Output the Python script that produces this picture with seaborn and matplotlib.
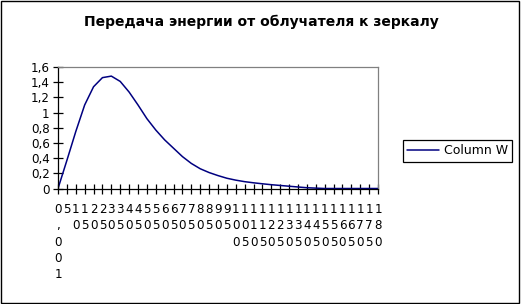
import matplotlib
matplotlib.use("Agg")
import matplotlib.pyplot as plt
import seaborn as sns
import pandas as pd
from matplotlib.patches import Rectangle
from matplotlib.lines import Line2D

# ---- data ----
categories = ["0,001"] + [str(v) for v in range(5, 185, 5)]
values = [0.0, 0.37, 0.75, 1.10, 1.34, 1.46, 1.48, 1.41, 1.27, 1.10,
          0.92, 0.77, 0.64, 0.53, 0.42, 0.33, 0.26, 0.21, 0.17, 0.135,
          0.11, 0.09, 0.075, 0.062, 0.05, 0.04, 0.03, 0.02, 0.01, 0.005,
          0.0, 0.0, 0.0, 0.0, 0.0, 0.0, 0.0]
yticks = [0, 0.2, 0.4, 0.6, 0.8, 1.0, 1.2, 1.4, 1.6]
series_name = "Column W"
title = "Передача энергии от облучателя к зеркалу"

sns.set_style("white")
plt.rcParams['font.family'] = ['DejaVu Sans']
plt.rcParams['text.color'] = 'black'
plt.rcParams['xtick.color'] = 'black'
plt.rcParams['ytick.color'] = 'black'

df = pd.DataFrame({"idx": range(len(categories)), "val": values})

W, H = 522, 304
fig = plt.figure(figsize=(W / 100, H / 100), dpi=100)
fig.patch.set_facecolor("white")
ax = fig.add_axes([58 / W, 1 - 188.5 / H, 320 / W, 121.5 / H])

sns.lineplot(data=df, x="idx", y="val", ax=ax, color="#000080", linewidth=1.1,
             legend=False)

ax.set_xlim(0, len(categories) - 1)
ax.set_ylim(0, 1.6)
ax.set_xlabel("")
ax.set_ylabel("")
ax.set_yticks(yticks)
ax.set_yticklabels([("%g" % t).replace(".", ",") for t in yticks], fontsize=8.6)
ax.set_xticks(range(len(categories)))
ax.set_xticklabels(["\n".join(c) for c in categories], fontsize=8.6,
                   linespacing=1.33, va="top")
ax.tick_params(axis="both", direction="inout", length=7, width=0.9,
               color="black", pad=2.5, bottom=True, left=True,
               labelcolor="black")
ax.tick_params(axis="x", pad=7)

for s in ["left", "bottom"]:
    ax.spines[s].set_color("black")
    ax.spines[s].set_linewidth(0.9)
for s in ["top", "right"]:
    ax.spines[s].set_color("#808080")
    ax.spines[s].set_linewidth(0.9)
ax.set_facecolor("white")

fig.text(0.5, 1 - 22 / H, title, ha="center", va="center",
         fontsize=10, fontweight="bold", color="black")

handle = Line2D([], [], color="#000080", linewidth=1.1)
leg = fig.legend([handle], [series_name], loc="center left",
                 bbox_to_anchor=(403 / W, 1 - 151 / H), fontsize=9,
                 frameon=True, fancybox=False, edgecolor="black",
                 framealpha=1, handlelength=2.5, handletextpad=0.4,
                 borderpad=0.35, borderaxespad=0)
leg.get_frame().set_linewidth(0.9)
for t in leg.get_texts():
    t.set_color("black")

fig.patches.append(Rectangle((0.5 / W, 1.5 / H), (519 - 0.5) / W, (H - 2.5) / H,
                             transform=fig.transFigure, fill=False,
                             edgecolor="black", linewidth=1.0))

fig.savefig("out.png", dpi=100, facecolor="white")
